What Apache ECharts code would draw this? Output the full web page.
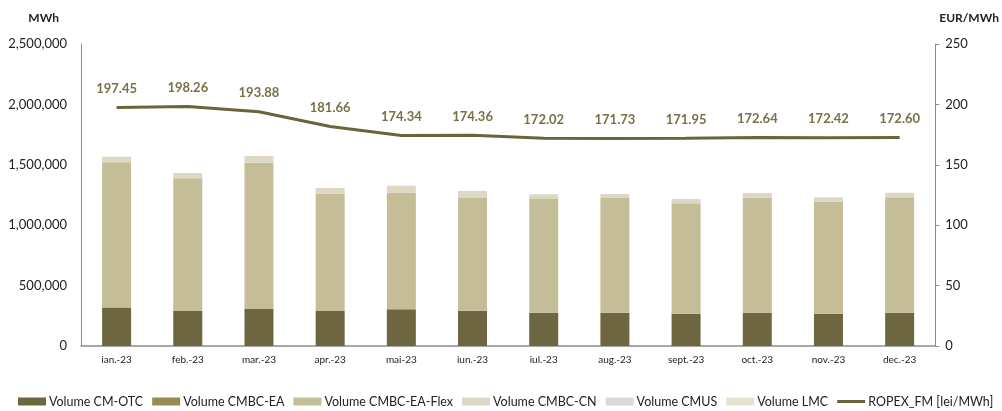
<!DOCTYPE html>
<html><head><meta charset="utf-8">
<script src="https://cdn.jsdelivr.net/npm/echarts@6/dist/echarts.min.js"></script>
<style>html,body{margin:0;padding:0;background:#fff}#c{width:1002px;height:411px}</style>
</head><body><div id="c"></div>
<script>
const categories = ['ian.-23','feb.-23','mar.-23','apr.-23','mai-23','iun.-23','iul.-23','aug.-23','sept.-23','oct.-23','nov.-23','dec.-23'];
const volCMOTC = [317000,290000,306000,290000,304000,292000,276000,276000,267000,276000,267000,276000];
const volCMBCEA = [4000,0,0,0,0,0,0,0,0,0,0,0];
const volCMBCEAFlex = [1200000,1098000,1211000,971000,965000,933000,941000,949000,914000,952000,928000,955000];
const volCMBCCN = [46000,44000,56000,47000,58000,58000,39000,33000,36000,39000,36000,38000];
const volCMUS = [0,0,0,0,0,0,0,0,0,0,0,0];
const volLMC = [0,0,0,0,0,0,0,0,0,0,0,0];
const ropex = [197.45,198.26,193.88,181.66,174.34,174.36,172.02,171.73,171.95,172.64,172.42,172.60];
const leftTicks = [0,500000,1000000,1500000,2000000,2500000];
const rightTicks = [0,50,100,150,200,250];

const font = 'Lato, "Open Sans", sans-serif';
const chart = echarts.init(document.getElementById('c'));
function bar(name, data, color){
  return {name, type:'bar', stack:'v', data, barWidth:29, itemStyle:{color}, emphasis:{disabled:true}};
}
chart.setOption({
  animation:false,
  textStyle:{fontFamily:font},
  grid:{left:81,right:66,top:44,bottom:65},
  legend:{
    bottom:0, left:18, width:984, itemWidth:28, itemHeight:8, itemGap:9, padding:[0,0,3,0],
    textStyle:{fontFamily:font,fontSize:12.5,color:'#222',padding:[0,0,0,-2]},
    data:[
      {name:'Volume CM-OTC',icon:'rect'},
      {name:'Volume CMBC-EA',icon:'rect'},
      {name:'Volume CMBC-EA-Flex',icon:'rect'},
      {name:'Volume CMBC-CN',icon:'rect'},
      {name:'Volume CMUS',icon:'rect'},
      {name:'Volume LMC',icon:'rect'},
      {name:'ROPEX_FM [lei/MWh]',icon:'path://M0,0 h28 v3 h-28 z'}
    ]
  },
  xAxis:{
    type:'category', data:categories,
    axisLine:{lineStyle:{color:'#8c8c8c',width:1.5}},
    axisTick:{show:false},
    axisLabel:{fontFamily:font,fontSize:10,color:'#222',margin:9}
  },
  yAxis:[
    {type:'value',min:0,max:2500000,interval:500000,
     name:'MWh',nameLocation:'end',nameGap:20,
     nameTextStyle:{fontFamily:font,fontSize:12,fontWeight:'bold',color:'#222',align:'right',padding:[0,22,0,0]},
     axisLine:{show:true,lineStyle:{color:'#8c8c8c'}},
     axisTick:{show:false},splitLine:{show:false},
     axisLabel:{fontFamily:font,fontSize:13,color:'#222',margin:14,
       formatter:v=>v.toLocaleString('en-US')}
    },
    {type:'value',min:0,max:250,interval:50,position:'right',
     name:'EUR/MWh',nameLocation:'end',nameGap:20,
     nameTextStyle:{fontFamily:font,fontSize:12,fontWeight:'bold',color:'#222',align:'left',padding:[0,0,0,4]},
     axisLine:{show:true,lineStyle:{color:'#8c8c8c'}},
     axisTick:{show:true,length:4,lineStyle:{color:'#8c8c8c'}},splitLine:{show:false},
     axisLabel:{fontFamily:font,fontSize:13,color:'#222',margin:10}
    }
  ],
  series:[
    bar('Volume CM-OTC',volCMOTC,'#6d6640'),
    bar('Volume CMBC-EA',volCMBCEA,'#958b53'),
    bar('Volume CMBC-EA-Flex',volCMBCEAFlex,'#c4bd97'),
    bar('Volume CMBC-CN',volCMBCCN,'#ddd8c3'),
    bar('Volume CMUS',volCMUS,'#d9d9d9'),
    bar('Volume LMC',volLMC,'#e6e3d0'),
    {name:'ROPEX_FM [lei/MWh]',type:'line',yAxisIndex:1,data:ropex,
     symbol:'circle',symbolSize:0.1,showSymbol:true,
     lineStyle:{color:'#6b6339',width:3},itemStyle:{color:'#6b6339'},
     label:{show:true,position:'top',distance:12,fontFamily:font,fontSize:13,fontWeight:'bold',color:'#7a7046',
       formatter:p=>p.value.toFixed(2)}}
  ]
});
</script></body></html>
